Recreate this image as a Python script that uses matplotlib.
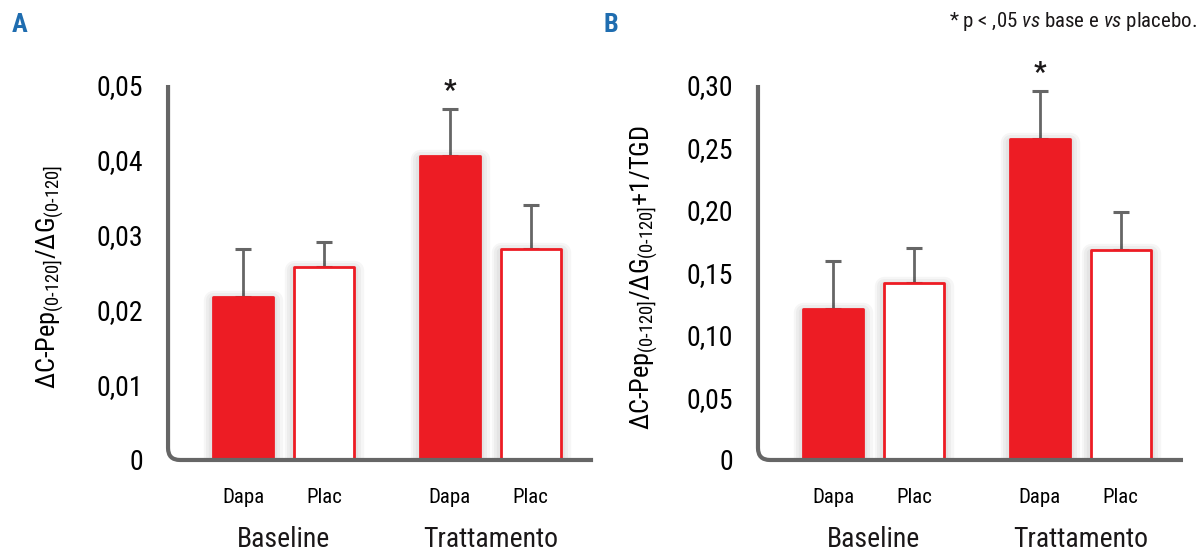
import numpy as np
import matplotlib
matplotlib.use('Agg')
import matplotlib.pyplot as plt
import matplotlib.patheffects as pe
from matplotlib.path import Path
from matplotlib.patches import PathPatch

# Data
bar_labels = ['Dapa', 'Plac', 'Dapa', 'Plac']
group_labels = ['Baseline', 'Trattamento']
x_pos = [0, 1, 2.55, 3.55]

vals_a = [0.0217, 0.0257, 0.0405, 0.0281]
tops_a = [0.0281, 0.0291, 0.0468, 0.0340]
ticks_a = [0, 0.01, 0.02, 0.03, 0.04, 0.05]
ticklabels_a = ['0', '0,01', '0,02', '0,03', '0,04', '0,05']

vals_b = [0.1208, 0.1416, 0.2568, 0.1680]
tops_b = [0.159, 0.1696, 0.295, 0.198]
ticks_b = [0, 0.05, 0.10, 0.15, 0.20, 0.25, 0.30]
ticklabels_b = ['0', '0,05', '0,10', '0,15', '0,20', '0,25', '0,30']

RED = '#ED1C24'
GRAY = '#666666'
BLUE = '#1F6DB0'
FONT = ['Roboto Condensed', 'DejaVu Sans']

plt.rcParams['font.family'] = FONT
plt.rcParams['mathtext.fontset'] = 'custom'
plt.rcParams['mathtext.rm'] = 'Roboto Condensed'
plt.rcParams['mathtext.it'] = 'Roboto Condensed:italic'
plt.rcParams['mathtext.bf'] = 'Roboto Condensed:bold'
plt.rcParams['text.color'] = '#1A1718'

fig = plt.figure(figsize=(12.02, 5.54), dpi=100)
ax_a = fig.add_axes([0.1398, 0.1697, 0.3536, 0.6769])
ax_b = fig.add_axes([0.6306, 0.1697, 0.3536, 0.6769])

# soft grey shadow round the bars
shadow = [pe.Stroke(linewidth=w, foreground='k', alpha=0.035, offset=(0, -2))
          for w in (14, 10, 6)] + [pe.Normal()]


def panel(ax, vals, tops, ticks, ticklabels, ylabel, lab_x, letter, letter_x):
    faces = [RED, 'white', RED, 'white']
    bars = ax.bar(x_pos, vals, width=0.74, color=faces, edgecolor=RED,
                  linewidth=2, joinstyle='round', zorder=3)
    for b in bars:
        b.set_path_effects(shadow)
    err = np.array(tops) - np.array(vals)
    ax.errorbar(x_pos, vals, yerr=[np.zeros(4), err], fmt='none', ecolor=GRAY,
                elinewidth=2, capsize=6, capthick=2.2, zorder=2)
    ax.annotate('*', xy=(x_pos[2], tops[2]), xytext=(0, 3), textcoords='offset points',
                ha='center', va='bottom', fontsize=20, fontweight='bold')

    ax.set_xlim(-0.93, 4.32)
    ax.set_ylim(0, ticks[-1])
    ax.set_yticks(ticks)
    ax.set_yticklabels(ticklabels, fontsize=20)
    ax.set_xticks(x_pos)
    ax.set_xticklabels(bar_labels, fontsize=15)
    ax.tick_params(axis='y', length=0, pad=18)
    ax.tick_params(axis='x', length=0, pad=20)
    for s in ax.spines.values():
        s.set_visible(False)

    # axis line with a rounded corner
    rx, ry = 12 / 425, 12 / 375
    verts = [(0, 1), (0, ry), (0, 0), (rx, 0), (1, 0)]
    codes = [Path.MOVETO, Path.LINETO, Path.CURVE3, Path.CURVE3, Path.LINETO]
    ax.add_patch(PathPatch(Path(verts, codes), transform=ax.transAxes, fill=False,
                           edgecolor=GRAY, linewidth=3, clip_on=False, zorder=4,
                           capstyle='butt'))

    for gx, name in zip([(x_pos[0] + x_pos[1]) / 2, (x_pos[2] + x_pos[3]) / 2], group_labels):
        ax.text(gx, -0.213, name, transform=ax.get_xaxis_transform(), ha='center',
                va='center', fontsize=20)

    ax.set_ylabel(ylabel, fontsize=19)
    ax.yaxis.set_label_coords(lab_x, 0.487)
    fig.text(letter_x, 0.955, letter, color=BLUE, fontsize=19, fontweight='bold',
             ha='left', va='center')


ylab_a = r'$\Delta$C-Pep$_{(0\text{-}120]}$/$\Delta$G$_{(0\text{-}120]}$'
ylab_b = r'$\Delta$C-Pep$_{(0\text{-}120]}$/$\Delta$G$_{(0\text{-}120]}$+1/TGD'

panel(ax_a, vals_a, tops_a, ticks_a, ticklabels_a, ylab_a, -0.24, 'A', 0.010)
panel(ax_b, vals_b, tops_b, ticks_b, ticklabels_b, ylab_b, -0.23, 'B', 0.502)

fig.text(0.996, 0.962, r'* p < ,05 $\mathit{vs}$ base e $\mathit{vs}$ placebo.',
         ha='right', va='center', fontsize=15)

fig.savefig('out.png', dpi=100)
